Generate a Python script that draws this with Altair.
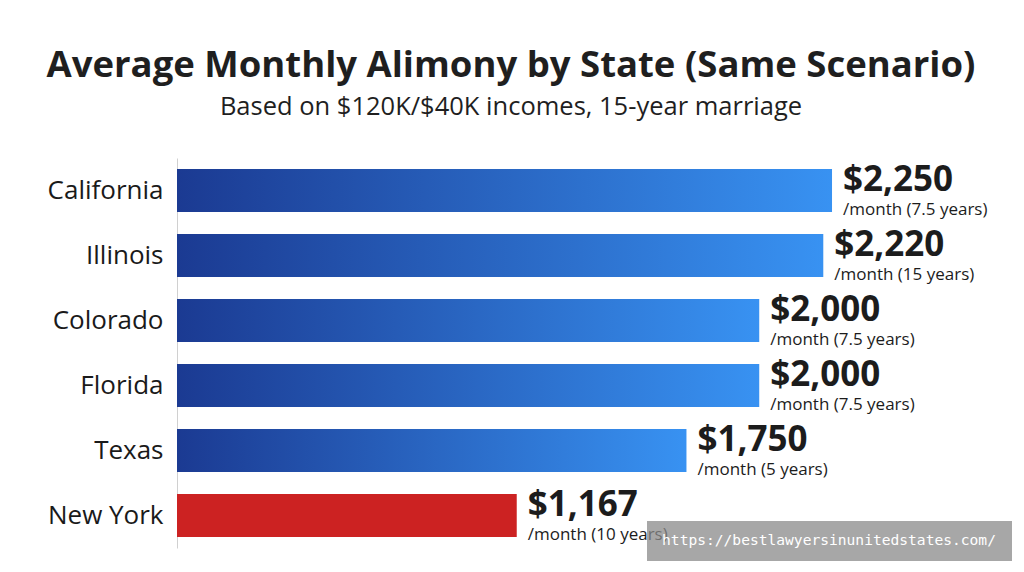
import altair as alt
import pandas as pd

states = ["California", "Illinois", "Colorado", "Florida", "Texas", "New York"]
amounts = [2250, 2220, 2000, 2000, 1750, 1167]
durations = ["7.5 years", "15 years", "7.5 years", "7.5 years", "5 years", "10 years"]

title_text = "Average Monthly Alimony by State (Same Scenario)"
subtitle_text = "Based on $120K/$40K incomes, 15-year marriage"
watermark = "https://bestlawyersinunitedstates.com/"

df = pd.DataFrame({
    "state": states,
    "amount": amounts,
    "label": [f"${a:,}" for a in amounts],
    "sub": [f"/month ({d})" for d in durations],
})

FONT = "Open Sans"
x_enc = alt.X("amount:Q", scale=alt.Scale(domain=[0, 2748], nice=False, zero=True), axis=None)
y_enc = alt.Y("state:N", sort=states,
              scale=alt.Scale(paddingInner=0.34, paddingOuter=0.17),
              axis=alt.Axis(title=None, ticks=False, labelPadding=14, labelFontSize=26,
                            labelFont=FONT, labelColor="#1a1a1a", domainColor="#d0d0d0",
                            domainWidth=1, labelFontWeight=500))

gradient = {
    "gradient": "linear", "x1": 0, "y1": 0, "x2": 1, "y2": 0,
    "stops": [{"offset": 0, "color": "#1b3a92"}, {"offset": 1, "color": "#3892f2"}],
}

base = alt.Chart(df)

blue_bars = base.transform_filter("datum.state != 'New York'").mark_bar(color=gradient).encode(x=x_enc, y=y_enc)
red_bars = base.transform_filter("datum.state == 'New York'").mark_bar(color="#cc2222").encode(x=x_enc, y=y_enc)

value_text = base.mark_text(align="left", baseline="middle", dx=11, dy=-11, fontSize=35,
                            fontWeight="bold", font=FONT, color="#1c1c1c").encode(
    x=x_enc, y=y_enc, text="label:N")

sub_text = base.mark_text(align="left", baseline="middle", dx=11, dy=19.5, fontSize=17,
                          font=FONT, color="#1c1c1c").encode(
    x=x_enc, y=y_enc, text="sub:N")

wm_box = alt.Chart(pd.DataFrame({"t": [watermark]})).mark_rect(color="#8a8a8a", opacity=0.75).encode(
    x=alt.value(470), x2=alt.value(835), y=alt.value(363), y2=alt.value(403))
wm_text = alt.Chart(pd.DataFrame({"t": [watermark]})).mark_text(
    font="DejaVu Sans Mono", fontSize=14.6, color="white", align="center", baseline="middle").encode(
    x=alt.value(652), y=alt.value(383), text="t:N")

chart = alt.layer(blue_bars, red_bars, value_text, sub_text, wm_box, wm_text).properties(
    width=800, height=390,
    background="white",
    autosize=alt.AutoSizeParams(type="none"),
    padding={"left": 177, "top": 158, "right": 47, "bottom": 24},
    title=alt.TitleParams(text=title_text, subtitle=subtitle_text, anchor="middle", frame="group",
                          dx=-66, offset=38, font=FONT, fontSize=36.5, fontWeight="bold",
                          color="#1f1f1f", subtitleFont=FONT, subtitleFontSize=25.5,
                          subtitleColor="#1f1f1f", subtitlePadding=10),
).configure_view(strokeWidth=0, stroke="transparent")

chart.save("out.html", embed_options={"renderer": "svg", "actions": False})
